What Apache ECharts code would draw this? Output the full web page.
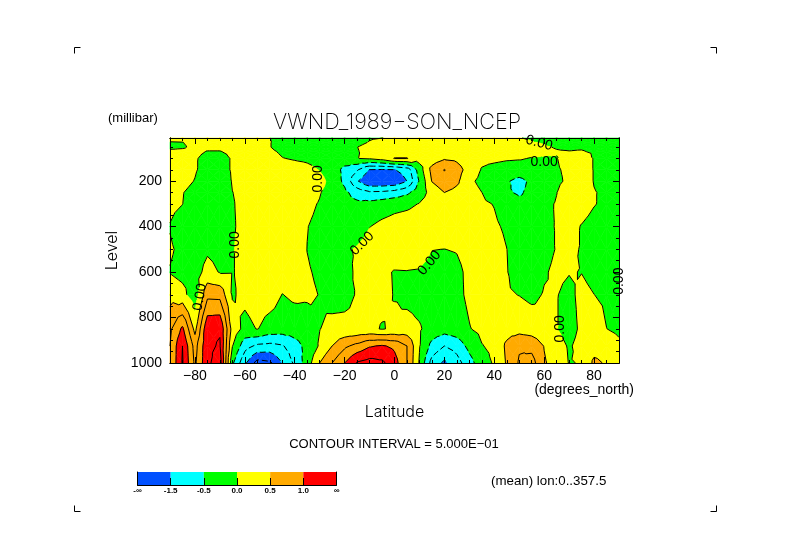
<!DOCTYPE html>
<html>
<head>
<meta charset="utf-8">
<title>VWND_1989-SON_NCEP</title>
<script src="https://cdn.jsdelivr.net/npm/echarts@6/dist/echarts.min.js"></script>
<style>html,body{margin:0;padding:0;background:#fff}#main{width:789px;height:558px}</style>
</head>
<body>
<div id="main"></div>
<script>
var lats = [-90,-85,-80,-75,-70,-65,-60,-55,-50,-45,-40,-35,-30,-25,-20,-15,-10,-5,0,5,10,15,20,25,30,35,40,45,50,55,60,65,70,75,80,85,90];
var levels = [10,30,50,70,100,150,200,250,300,400,500,600,700,850,925,1000];

// meridional wind, one list per pressure level, south to north
var p10 = [.1,.1,.1,.1,.1,.1,.08,.05,.005,-.1,-.1,-.1,-.1,-.1,-.1,-.1,-.03,-.002,.02,.02,.02,.02,.02,.02,.02,.02,.02,.02,.01,-.03,-.1,-.1,-.1,-.1,-.1,-.1,-.1];
var p30 = [-.02,-.01,.1,.1,.1,.1,.1,.15,.02,-.15,-.25,-.3,-.3,-.25,-.2,-.08,.02,.1,.1,.1,.1,.1,.1,.1,.1,.1,.1,.1,.05,.02,-.02,-.1,-.15,-.15,-.15,-.15,-.15];
var p50 = [-.1,-.05,.1,.1,.1,.15,.2,.2,.02,-.2,-.35,-.4,-.4,-.35,-.25,-.005,.1,.2,.2,.2,.2,.2,.2,.2,.2,.2,.2,.15,.1,.07,.03,-.02,-.05,-.05,-.1,-.15,-.2];
var p70 = [.1,.1,.1,-.02,-.02,.1,.2,.2,.1,-.08,-.2,-.3,-.35,-.3,-.25,-.02,.1,.2,.3,.3,.2,.2,.2,.2,.2,.2,.2,.2,.15,.1,.06,.02,.01,.03,-.05,-.15,-.2];
var p100 = [.2,.2,.05,-.15,-.2,.05,.2,.2,.2,.02,-.05,-.1,-.2,-.3,-.3,-.01,.05,.2,.52,.52,.2,.25,.45,.4,.2,.1,.1,.05,.03,-.02,-.03,-.015,.2,.25,-.03,-.15,-.25];
var p150 = [.2,.2,.05,-.2,-.2,.05,.2,.3,.3,.3,.25,.15,-.02,-.3,-.6,-.95,-1.52,-1.55,-1.52,-1.3,-.25,.65,1.02,.7,.3,-.03,-.15,-.2,-.2,-.15,-.1,-.05,.1,.3,-.03,-.2,-.3];
var p200 = [.15,.15,-.02,-.35,-.35,.03,.1,.3,.4,.45,.4,.4,.2,-.2,-.6,-1.45,-1.95,-1.95,-1.9,-1.5,-.45,.52,.85,.6,.1,-.12,-.3,-.45,-.65,-.4,-.2,-.1,.1,.4,-.03,-.2,-.3];
var p250 = [.1,.02,-.15,-.4,-.35,-.005,.08,.2,.3,.35,.3,.2,.03,-.2,-.4,-.7,-.92,-.9,-.8,-.6,-.2,.15,.5,.35,.2,.003,-.25,-.45,-.55,-.4,-.2,-.01,.3,.35,.03,-.1,-.25];
var p300 = [.1,.005,-.2,-.35,-.3,-.02,.08,.3,.35,.3,.2,.1,-.03,-.3,-.4,-.4,-.35,-.25,-.15,-.1,.02,.2,.4,.4,.3,.08,-.02,-.25,-.4,-.4,-.1,.03,.2,.25,.03,-.12,-.3];
var p400 = [-.02,-.2,-.3,-.3,-.2,-.03,.08,.2,.3,.3,.25,.01,-.1,-.3,-.4,-.25,-.01,.12,.2,.25,.3,.35,.35,.35,.3,.2,.08,-.08,-.4,-.45,-.08,.02,.2,-.03,-.2,-.3,-.3];
var p500 = [.05,-.1,-.25,-.07,-.15,-.02,.1,.2,.25,.25,.2,-.005,-.1,-.2,-.08,.05,.2,.25,.3,.3,.2,.01,-.005,.03,.2,.3,.2,.005,-.2,-.25,-.12,.02,.1,-.03,-.2,-.25,-.3];
var p600 = [-.02,-.15,-.2,.16,-.026,-.02,.1,.2,.2,.2,.18,.03,-.05,-.2,-.2,.1,.2,.1,-.03,-.02,-.04,-.15,-.2,-.12,.12,.25,.25,.02,-.2,-.25,-.04,.08,.02,-.01,-.15,-.25,-.3];
var p700 = [.3,.16,-.3,.87,.85,-.05,.12,.25,.22,-.01,.08,.06,-.01,-.15,-.12,.03,.12,.12,-.02,-.15,-.19,-.3,-.3,-.1,.08,.25,.3,.05,-.01,-.1,.03,.02,-.12,.13,.005,-.1,-.2];
var p850 = [.9,1.6,.35,1.9,1.95,.3,-.15,.02,-.2,-.25,-.25,-.2,-.01,.12,.12,.1,.1,-.03,.08,.2,.05,-.2,-.29,-.2,-.02,.1,.2,.3,.31,.25,.15,.02,-.2,.1,.3,.005,-.1];
var p925 = [1,2,.8,1.9,2.05,.02,-.8,-1.1,-1.15,-1.05,-.7,-.35,.05,.5,.9,1.15,1.45,1.55,1.4,1,.03,-.65,-1,-.8,-.35,-.02,.1,.6,.95,.85,.48,.2,-.05,.15,.3,.3,.1];
var p1000 = [1,2.05,.9,1.9,2.25,-.4,-1.4,-2.2,-2.1,-1.5,-.9,-.25,.5,1,1.5,2.05,2.2,2.1,1.7,1,-.05,-1.2,-1.6,-1.2,-.7,-.2,.05,.55,1.05,1.2,.55,.3,-.02,.02,.6,.45,.2];
var fieldRows = [p10,p30,p50,p70,p100,p150,p200,p250,p300,p400,p500,p600,p700,p850,p925,p1000];

var bandBreaks = [-Infinity,-1.5,-0.5,0,0.5,1.5,Infinity];
var bandColors = ['#0050ff','#00ffff','#00ff00','#ffff00','#ffaa00','#ff0000'];
var contourLevels = [-2,-1.5,-1,-0.5,0,0.5,1,1.5,2];
var barLabels = ['-\u221e','-1.5','-0.5','0.0','0.5','1.0','\u221e'];

var xMajor = [-80,-60,-40,-20,0,20,40,60,80];
var xMinor = [-85,-75,-70,-65,-55,-50,-45,-35,-30,-25,-15,-10,-5,5,10,15,25,30,35,45,50,55,65,70,75,85];
var yMajor = [200,400,600,800,1000];
var yMinor = [50,100,150,250,300,350,450,500,550,650,700,750,850,900,950];

// where the 0.00 contour carries its label: lat, level, angle
var zeroLabels = [
    [-78,710,80],[-64,480,90],[-30.5,190,90],[-13,475,45],
    [14,560,50],[66.5,850,90],[90,640,90],[58,32,-15],[60,115,0]
];

function cut(poly, limit, keepAbove) {
    var out = [];
    for (var i = 0; i < poly.length; i++) {
        var a = poly[i], b = poly[(i + 1) % poly.length];
        var inA = keepAbove ? a[2] >= limit : a[2] <= limit;
        var inB = keepAbove ? b[2] >= limit : b[2] <= limit;
        if (inA) out.push(a);
        if (inA !== inB) {
            var t = (limit - a[2]) / (b[2] - a[2]);
            out.push([a[0] + (b[0] - a[0]) * t, a[1] + (b[1] - a[1]) * t, limit]);
        }
    }
    return out;
}

// each grid cell goes into four triangles around its centre
var triangles = [];
for (var r = 0; r < levels.length - 1; r++) {
    for (var c = 0; c < lats.length - 1; c++) {
        var q = [
            [lats[c], levels[r], fieldRows[r][c]],
            [lats[c + 1], levels[r], fieldRows[r][c + 1]],
            [lats[c + 1], levels[r + 1], fieldRows[r + 1][c + 1]],
            [lats[c], levels[r + 1], fieldRows[r + 1][c]]
        ];
        var mid = [(q[0][0] + q[1][0]) / 2, (q[0][1] + q[3][1]) / 2, (q[0][2] + q[1][2] + q[2][2] + q[3][2]) / 4];
        for (var k = 0; k < 4; k++) triangles.push([q[k], q[(k + 1) % 4], mid]);
    }
}

var fills = [];
triangles.forEach(function (tri) {
    for (var b = 0; b < bandColors.length; b++) {
        var poly = cut(tri, bandBreaks[b], true);
        if (poly.length) poly = cut(poly, bandBreaks[b + 1], false);
        if (poly.length > 2) fills.push({ band: b, pts: poly });
    }
});

function nearLabel(lat, level) {
    for (var i = 0; i < zeroLabels.length; i++) {
        var dx = (lat - zeroLabels[i][0]) * 2.49, dy = (level - zeroLabels[i][1]) * 0.2275;
        if (dx * dx + dy * dy < 150) return true;
    }
    return false;
}

function contourSegments(level) {
    var segs = [];
    triangles.forEach(function (tri) {
        var hit = [];
        for (var i = 0; i < 3; i++) {
            var a = tri[i], b = tri[(i + 1) % 3];
            if ((a[2] < level) !== (b[2] < level)) {
                var t = (level - a[2]) / (b[2] - a[2]);
                hit.push([a[0] + (b[0] - a[0]) * t, a[1] + (b[1] - a[1]) * t]);
            }
        }
        if (hit.length !== 2) return;
        if (level === 0 && nearLabel((hit[0][0] + hit[1][0]) / 2, (hit[0][1] + hit[1][1]) / 2)) return;
        segs.push(hit);
    });
    return segs;
}

function keyOf(p) { return p[0].toFixed(3) + ',' + p[1].toFixed(3); }

// join the little pieces so the dash pattern runs along the whole line
function chain(segs) {
    var byEnd = {}, used = [], lines = [];
    segs.forEach(function (s, i) {
        (byEnd[keyOf(s[0])] = byEnd[keyOf(s[0])] || []).push(i);
        (byEnd[keyOf(s[1])] = byEnd[keyOf(s[1])] || []).push(i);
    });
    function walk(line) {
        while (true) {
            var end = line[line.length - 1], list = byEnd[keyOf(end)], next = -1;
            for (var i = 0; i < list.length; i++) if (!used[list[i]]) next = list[i];
            if (next < 0) return;
            used[next] = true;
            var s = segs[next];
            line.push(keyOf(s[0]) === keyOf(end) ? s[1] : s[0]);
        }
    }
    segs.forEach(function (s, i) {
        if (used[i]) return;
        used[i] = true;
        var line = [s[0], s[1]];
        walk(line);
        line.reverse();
        walk(line);
        lines.push(line);
    });
    return lines;
}

var contourLines = [];
contourLevels.forEach(function (lv) {
    chain(contourSegments(lv)).forEach(function (pts) {
        contourLines.push({ level: lv, pts: pts });
    });
});

var textFont = 'Liberation Sans';
var thinFont = 'Inter';

function xAxisFor(pos, values, len, withLabels) {
    return {
        type: 'value', gridIndex: 0, position: pos, min: -90, max: 90, z: 5,
        axisLine: { show: true, onZero: false, lineStyle: { color: '#000', width: 1 } },
        axisTick: { show: true, inside: true, length: len, customValues: values, lineStyle: { color: '#000' } },
        axisLabel: withLabels ? {
            show: true, customValues: xMajor, margin: 6, color: '#000', fontFamily: textFont, fontSize: 14,
            formatter: function (v) { return String(v).replace('-', '\u2212'); }
        } : { show: false },
        splitLine: { show: false }
    };
}

function yAxisFor(pos, values, len, withLabels) {
    return {
        type: 'value', gridIndex: 0, position: pos, inverse: true, min: 10, max: 1000, z: 5,
        axisLine: { show: true, onZero: false, lineStyle: { color: '#000', width: 1 } },
        axisTick: { show: true, inside: true, length: len, customValues: values, lineStyle: { color: '#000' } },
        axisLabel: withLabels ? {
            show: true, customValues: yMajor, margin: 8, color: '#000', fontFamily: textFont, fontSize: 14,
            formatter: function (v) { return String(v); }
        } : { show: false },
        splitLine: { show: false }
    };
}

var xBottom = xAxisFor('bottom', xMajor, 6, true);
xBottom.name = 'Latitude';
xBottom.nameLocation = 'middle';
xBottom.nameGap = 41;
xBottom.nameTextStyle = { color: '#000', fontFamily: thinFont, fontWeight: 300, fontSize: 16 };

var yLeft = yAxisFor('left', yMajor, 6, true);
yLeft.name = 'Level';
yLeft.nameLocation = 'middle';
yLeft.nameGap = 43;
yLeft.nameTextStyle = { color: '#000', fontFamily: thinFont, fontWeight: 300, fontSize: 16 };

function smallText(x, y, text, size, align) {
    return {
        type: 'text', x: x, y: y, silent: true,
        style: { text: text, fill: '#000', font: size + 'px "' + textFont + '"', textAlign: align || 'left', textVerticalAlign: 'middle' }
    };
}

function corner(x, y, dx, dy) {
    return {
        type: 'polyline', silent: true,
        shape: { points: [[x + dx, y], [x, y], [x, y + dy]] },
        style: { stroke: '#000', lineWidth: 1, fill: null }
    };
}

var option = {
    animation: false,
    backgroundColor: '#fff',
    title: {
        text: 'VWND_1989\u2212SON_NCEP', left: 268, top: 106,
        textStyle: { color: '#000', fontFamily: thinFont, fontWeight: 200, fontSize: 21.6 }
    },
    grid: [
        { left: 170, top: 138, width: 449, height: 225, containLabel: false },
        { left: 137.5, top: 472, width: 199, height: 13, containLabel: false }
    ],
    xAxis: [
        xBottom,
        xAxisFor('bottom', xMinor, 3, false),
        xAxisFor('top', xMajor, 6, false),
        xAxisFor('top', xMinor, 3, false),
        {
            type: 'value', gridIndex: 1, position: 'bottom', min: 0, max: 6, interval: 1, z: 5,
            axisLine: { show: true, onZero: false, lineStyle: { color: '#000' } },
            axisTick: { show: true, inside: true, length: 7, lineStyle: { color: '#000' } },
            axisLabel: {
                show: true, margin: 2, color: '#000', fontFamily: textFont, fontSize: 8, fontWeight: 'bold',
                showMinLabel: true, showMaxLabel: true, hideOverlap: false,
                formatter: function (v) { return barLabels[v]; }
            },
            splitLine: { show: false }
        }
    ],
    yAxis: [
        yLeft,
        yAxisFor('left', yMinor, 3, false),
        yAxisFor('right', yMajor, 6, false),
        yAxisFor('right', yMinor, 3, false),
        {
            type: 'value', gridIndex: 1, position: 'left', min: 0, max: 1, z: 5,
            axisLine: { show: true, onZero: false, lineStyle: { color: '#000' } },
            axisTick: { show: false }, axisLabel: { show: false }, splitLine: { show: false }
        },
        {
            type: 'value', gridIndex: 1, position: 'right', min: 0, max: 1, z: 5,
            axisLine: { show: true, onZero: false, lineStyle: { color: '#000' } },
            axisTick: { show: false }, axisLabel: { show: false }, splitLine: { show: false }
        }
    ],
    series: [
        {
            type: 'custom', xAxisIndex: 0, yAxisIndex: 0, silent: true, progressive: 0, z: 2,
            data: fills.map(function (f, i) { return [i]; }),
            renderItem: function (params, api) {
                var f = fills[params.dataIndex];
                return {
                    type: 'polygon',
                    shape: { points: f.pts.map(function (p) { return api.coord([p[0], p[1]]); }) },
                    style: { fill: bandColors[f.band], stroke: bandColors[f.band], lineWidth: 0.6 }
                };
            }
        },
        {
            type: 'custom', xAxisIndex: 0, yAxisIndex: 0, silent: true, progressive: 0, z: 3,
            data: contourLines.map(function (l, i) { return [i]; }),
            renderItem: function (params, api) {
                var l = contourLines[params.dataIndex];
                return {
                    type: 'polyline',
                    shape: { points: l.pts.map(function (p) { return api.coord([p[0], p[1]]); }) },
                    style: { stroke: '#000', lineWidth: 1, fill: null, lineDash: l.level < 0 ? [6, 3] : null }
                };
            }
        },
        {
            type: 'custom', xAxisIndex: 0, yAxisIndex: 0, silent: true, progressive: 0, z: 4, clip: false,
            data: zeroLabels.map(function (l, i) { return [i]; }),
            renderItem: function (params, api) {
                var l = zeroLabels[params.dataIndex], pos = api.coord([l[0], l[1]]);
                return {
                    type: 'text', x: pos[0], y: pos[1], rotation: l[2] * Math.PI / 180,
                    style: { text: '0.00', fill: '#000', font: '14px "' + textFont + '"', textAlign: 'center', textVerticalAlign: 'middle' }
                };
            }
        },
        {
            type: 'custom', xAxisIndex: 4, yAxisIndex: 4, silent: true, progressive: 0, z: 2,
            data: bandColors.map(function (col, i) { return [i]; }),
            renderItem: function (params, api) {
                var i = params.dataIndex, a = api.coord([i, 1]), b = api.coord([i + 1, 0]);
                return {
                    type: 'rect',
                    shape: { x: a[0], y: a[1], width: b[0] - a[0], height: b[1] - a[1] },
                    style: { fill: bandColors[i] }
                };
            }
        }
    ],
    graphic: [
        smallText(108, 118, '(millibar)', 13),
        smallText(634, 390, '(degrees_north)', 14, 'right'),
        smallText(394, 444, 'CONTOUR INTERVAL = 5.000E\u221201', 13, 'center'),
        smallText(491, 481, '(mean) lon:0..357.5', 13.3),
        corner(74.5, 47.5, 6, 6),
        corner(716.5, 47.5, -6, 6),
        corner(74.5, 511.5, 6, -6),
        corner(716.5, 511.5, -6, -6)
    ]
};

var chart = echarts.init(document.getElementById('main'), null, { renderer: 'canvas' });
chart.setOption(option);
</script>
</body>
</html>
